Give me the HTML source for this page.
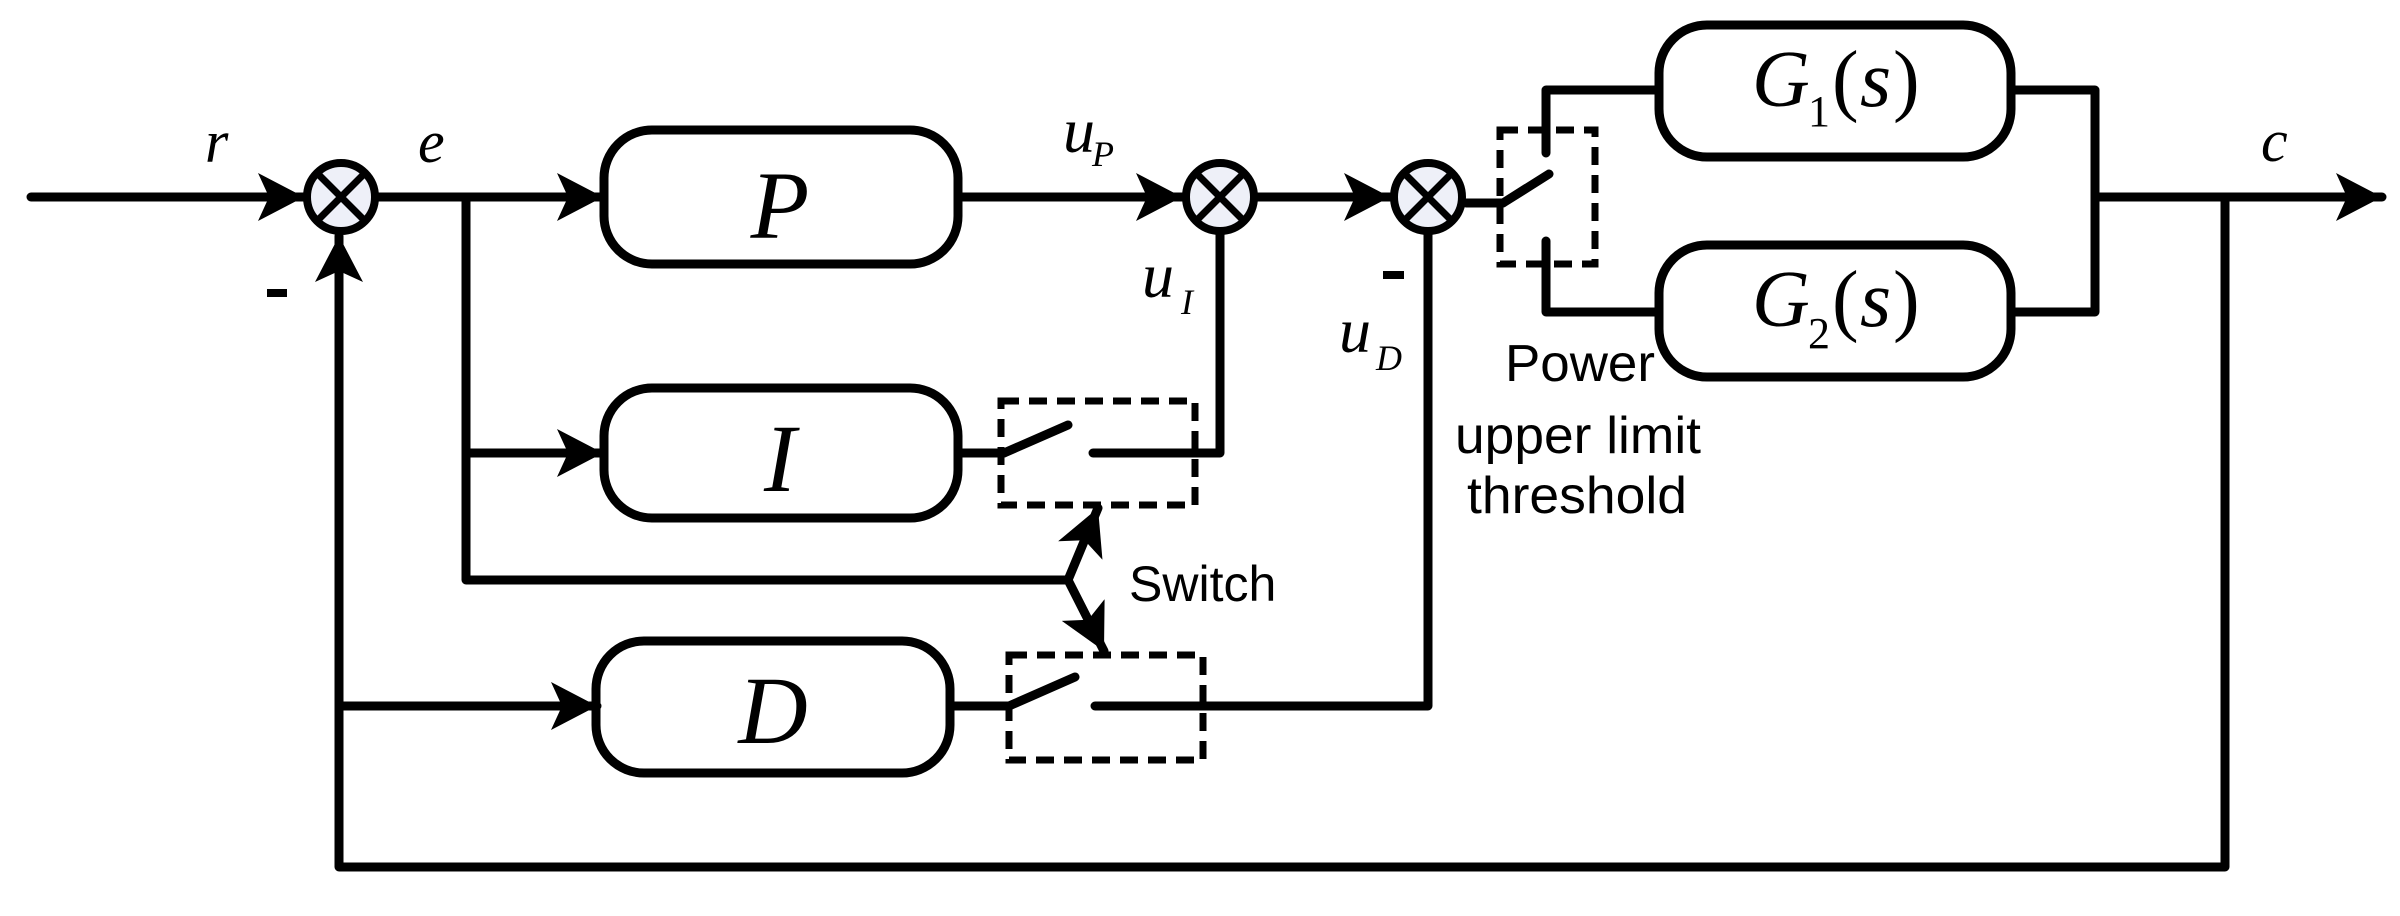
<!DOCTYPE html>
<html><head><meta charset="utf-8"><style>
html,body{margin:0;padding:0;background:#fff;}
svg{display:block;}
.ti{font-family:"Liberation Serif",serif;font-style:italic;fill:#000;}
.ts{font-family:"Liberation Sans",sans-serif;fill:#000;}
</style></head><body>
<svg width="2400" height="916" viewBox="0 0 2400 916" xmlns="http://www.w3.org/2000/svg">
<defs>
<marker id="ar" markerUnits="userSpaceOnUse" markerWidth="52" markerHeight="52" refX="46" refY="24" orient="auto">
<path d="M46,24 L0,0 L11,24 L0,48 Z" fill="#000"/>
</marker>
</defs>
<g stroke="#000" stroke-width="9" fill="none" stroke-linecap="round" stroke-linejoin="round">
<line x1="31" y1="197" x2="304" y2="197" marker-end="url(#ar)"/>
<line x1="377" y1="197" x2="603" y2="197" marker-end="url(#ar)"/>
<polyline points="466,197 466,580 1068,580"/>
<line x1="466" y1="453" x2="603" y2="453" marker-end="url(#ar)"/>
<line x1="1068" y1="580" x2="1098" y2="508" marker-end="url(#ar)"/>
<line x1="1068" y1="580" x2="1104" y2="651" marker-end="url(#ar)"/>
<polyline points="2225,197 2225,867 339,867 339,236" marker-end="url(#ar)"/>
<line x1="339" y1="706" x2="597" y2="706" marker-end="url(#ar)"/>
<line x1="958" y1="197" x2="1182" y2="197" marker-end="url(#ar)"/>
<line x1="1258" y1="197" x2="1390" y2="197" marker-end="url(#ar)"/>
<line x1="958" y1="453" x2="1004" y2="453"/>
<line x1="1004" y1="453" x2="1068" y2="425"/>
<polyline points="1093,453 1220,453 1220,234"/>
<line x1="950" y1="706" x2="1009" y2="706"/>
<line x1="1009" y1="706" x2="1075" y2="677"/>
<polyline points="1095,706 1428,706 1428,234"/>
<line x1="1466" y1="203" x2="1503" y2="203"/>
<line x1="1503" y1="203" x2="1549" y2="174"/>
<polyline points="1546,153 1546,90 1659,90"/>
<polyline points="1546,241 1546,312 1659,312"/>
<polyline points="2011,90 2095,90 2095,312 2011,312"/>
<line x1="2095" y1="197" x2="2382" y2="197" marker-end="url(#ar)"/>
<rect x="604" y="130" width="354" height="134" rx="48" ry="48"/>
<rect x="604" y="388" width="354" height="130" rx="48" ry="48"/>
<rect x="596" y="641" width="354" height="132" rx="48" ry="48"/>
<rect x="1659" y="25" width="352" height="132" rx="48" ry="48"/>
<rect x="1659" y="245" width="352" height="132" rx="48" ry="48"/>
</g>
<g stroke="#000" stroke-width="7" fill="none" stroke-dasharray="18,10">
<rect x="1001" y="401" width="194" height="104"/>
<rect x="1009" y="655" width="194" height="105"/>
<rect x="1500" y="130" width="95" height="134"/>
</g>
<g stroke="#000" stroke-width="8" fill="#eef0f8">
<circle cx="341" cy="197" r="34"/>
<circle cx="1220" cy="197" r="34"/>
<circle cx="1428" cy="197" r="34"/>
</g>
<g stroke="#000" stroke-width="7">
<path d="M317,173 L365,221 M365,173 L317,221"/>
<path d="M1196,173 L1244,221 M1244,173 L1196,221"/>
<path d="M1404,173 L1452,221 M1452,173 L1404,221"/>
</g>
<rect x="267" y="289" width="20" height="8" fill="#000"/>
<rect x="1383" y="271" width="21" height="8" fill="#000"/>
<text class="ti" x="205" y="162" font-size="60">r</text>
<text class="ti" x="418" y="162" font-size="60">e</text>
<text class="ti" x="2261" y="161" font-size="60">c</text>
<text class="ti" x="1063" y="152" font-size="64">u</text>
<text class="ti" x="1092" y="166" font-size="36">P</text>
<text class="ti" x="1142" y="297" font-size="64">u</text>
<text class="ti" x="1181" y="314" font-size="36">I</text>
<text class="ti" x="1339" y="352" font-size="64">u</text>
<text class="ti" x="1376" y="370" font-size="36">D</text>
<text class="ti" x="780" y="238" font-size="96" text-anchor="middle">P</text>
<text class="ti" x="780" y="491" font-size="96" text-anchor="middle">I</text>
<text class="ti" x="773" y="743" font-size="96" text-anchor="middle">D</text>
<text class="ti" x="1752" y="106" font-size="80">G</text>
<text class="ti" x="1808" y="126" font-size="44" style="font-style:normal">1</text>
<text class="ti" x="1832" y="106" font-size="80" style="font-style:normal">(</text>
<text class="ti" x="1860" y="106" font-size="80">s</text>
<text class="ti" x="1893" y="106" font-size="80" style="font-style:normal">)</text>
<text class="ti" x="1752" y="326" font-size="80">G</text>
<text class="ti" x="1808" y="348" font-size="44" style="font-style:normal">2</text>
<text class="ti" x="1832" y="326" font-size="80" style="font-style:normal">(</text>
<text class="ti" x="1860" y="326" font-size="80">s</text>
<text class="ti" x="1893" y="326" font-size="80" style="font-style:normal">)</text>
<text class="ts" x="1129" y="601" font-size="50">Switch</text>
<text class="ts" x="1580" y="381" font-size="52" text-anchor="middle" textLength="150" lengthAdjust="spacingAndGlyphs">Power</text>
<text class="ts" x="1578" y="453" font-size="52" text-anchor="middle" textLength="246" lengthAdjust="spacingAndGlyphs">upper limit</text>
<text class="ts" x="1577" y="513" font-size="52" text-anchor="middle" textLength="220" lengthAdjust="spacingAndGlyphs">threshold</text>
</svg>
</body></html>
